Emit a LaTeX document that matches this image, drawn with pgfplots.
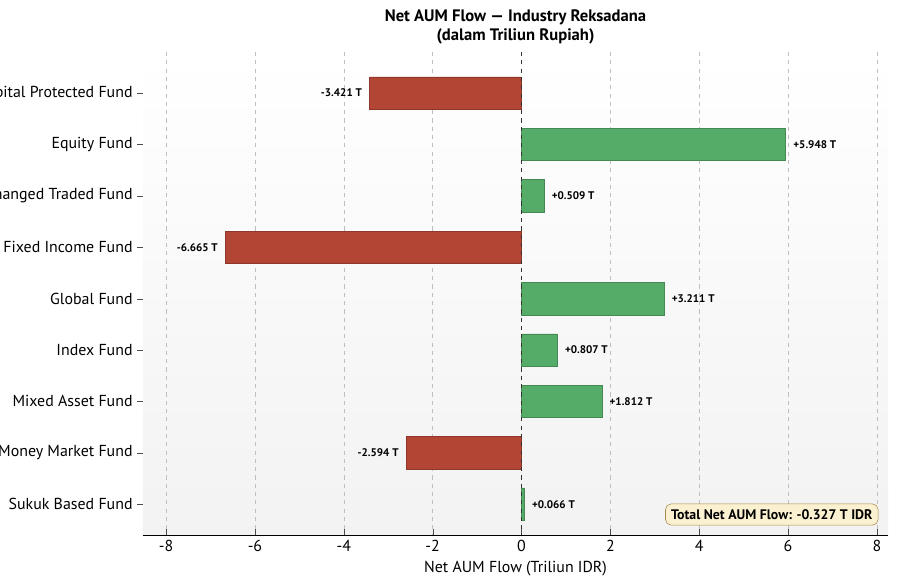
\documentclass[border=0pt]{standalone}
\usepackage{pgfplots}
\pgfplotsset{compat=1.18}
\usepackage{fontspec}
\setmainfont{PT Sans}
\definecolor{neg}{HTML}{B34535}
\definecolor{pos}{HTML}{55AB68}
\definecolor{boxf}{HTML}{FBF1D0}
\definecolor{boxd}{HTML}{A88A50}
\begin{document}
\begin{tikzpicture}
\useasboundingbox (0,0) rectangle (9in,5.86in);
\begin{axis}[at={(1.43in,0.51in)},anchor=south west,
 width=7.45in,height=4.83in,scale only axis,
 xmin=-8.52,xmax=8.25,ymin=-0.8,ymax=8.6,y dir=reverse,
 axis background/.style={top color=white,bottom color=black!5},
 axis line style={draw=none},
 axis x line*=bottom, x axis line style={draw=black},
 xtick={-8,-6,...,8},
 ytick={0,...,8},
 ytick pos=left,
 yticklabels={Capital Protected Fund,Equity Fund,Exchanged Traded Fund,Fixed Income Fund,Global Fund,Index Fund,Mixed Asset Fund,Money Market Fund,Sukuk Based Fund},
 tick style={black!70},
 major tick length=4pt,
 tick label style={font=\fontsize{11.5}{13}\selectfont},
 /pgf/number format/assume math mode=true,
 xmajorgrids, grid style={dashed,black!25},
 xlabel={Net AUM Flow (Triliun IDR)},
 xlabel style={font=\fontsize{11.5}{13}\selectfont},
 title={\textbf{Net AUM Flow — Industry Reksadana}\\\textbf{(dalam Triliun Rupiah)}},
 title style={align=center,font=\large,yshift=-4pt},
 xbar,bar width=0.63,bar shift=0pt,
 point meta=explicit symbolic,
 nodes near coords style={font=\footnotesize\bfseries,black},
 ]
\addplot[fill=neg,draw=neg!80!black,nodes near coords,nodes near coords style={anchor=east,xshift=-2pt}] table[meta=l] {
x y l
-3.421 0 -3.421~T
-6.665 3 -6.665~T
-2.594 7 -2.594~T
};
\addplot[fill=pos,draw=pos!80!black,nodes near coords,nodes near coords style={anchor=west,xshift=2pt}] table[meta=l] {
x y l
5.948 1 +5.948~T
0.509 2 +0.509~T
3.211 4 +3.211~T
0.807 5 +0.807~T
1.812 6 +1.812~T
0.066 8 +0.066~T
};
\draw[dashed,black!80,thick] (axis cs:0,-0.8) -- (axis cs:0,8.6);
\node[anchor=south east,fill=boxf,draw=boxd,rounded corners=4pt,font=\bfseries,inner sep=4pt] at (rel axis cs:0.987,0.02) {Total Net AUM Flow: -0.327 T IDR};
\end{axis}
\end{tikzpicture}
\end{document}
